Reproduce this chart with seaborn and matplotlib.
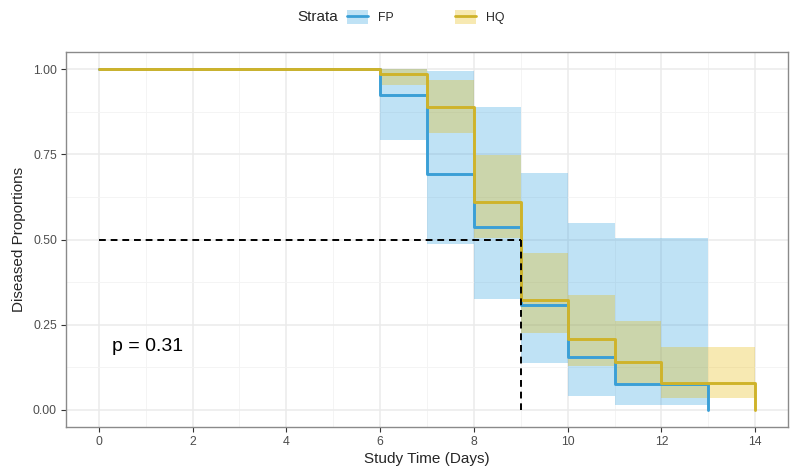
import matplotlib
matplotlib.use("Agg")
import matplotlib.pyplot as plt
import numpy as np
import pandas as pd
import seaborn as sns
from matplotlib.lines import Line2D
from matplotlib.patches import Patch
from matplotlib.ticker import MultipleLocator

# Kaplan-Meier style estimates
fp_time = [0, 6, 7, 8, 9, 10, 11, 13]
fp_surv = [1.0, 0.923, 0.692, 0.538, 0.308, 0.154, 0.076, 0.0]
fp_upper = [1.0, 1.0, 0.994, 0.889, 0.695, 0.548, 0.504, 0.504]
fp_lower = [1.0, 0.792, 0.487, 0.325, 0.138, 0.041, 0.015, 0.015]

hq_time = [0, 6, 7, 8, 9, 10, 11, 12, 14]
hq_surv = [1.0, 0.985, 0.889, 0.611, 0.323, 0.208, 0.141, 0.080, 0.0]
hq_upper = [1.0, 1.0, 0.968, 0.748, 0.460, 0.337, 0.262, 0.185, 0.185]
hq_lower = [1.0, 0.953, 0.812, 0.504, 0.226, 0.129, 0.075, 0.035, 0.035]

strata = ["FP", "HQ"]
line_colors = {"FP": "#3A9FD6", "HQ": "#CFB32A"}
fill_colors = {"FP": "#2E9FDF", "HQ": "#E7B800"}
p_label = "p = 0.31"

df = pd.concat([
    pd.DataFrame({"time": fp_time, "surv": fp_surv, "lower": fp_lower,
                  "upper": fp_upper, "strata": "FP"}),
    pd.DataFrame({"time": hq_time, "surv": hq_surv, "lower": hq_lower,
                  "upper": hq_upper, "strata": "HQ"}),
], ignore_index=True)

sns.set_theme(style="ticks")
plt.rcParams["font.family"] = ["Liberation Sans", "DejaVu Sans"]

fig = plt.figure(figsize=(7.9, 4.71), dpi=100)
ax = fig.add_axes([66 / 790, 1 - 427 / 471, (788 - 66) / 790, (427 - 52) / 471])

# confidence bands
for s in strata:
    d = df[df["strata"] == s]
    ax.fill_between(d["time"], d["lower"], d["upper"], step="post",
                    color=fill_colors[s], alpha=0.3, linewidth=0, zorder=2)

sns.lineplot(data=df, x="time", y="surv", hue="strata", palette=line_colors,
             hue_order=strata, drawstyle="steps-post", linewidth=2.1,
             legend=False, ax=ax, zorder=3, estimator=None)

# median line
medians = [df[(df["strata"] == s) & (df["surv"] <= 0.5)]["time"].min() for s in strata]
med = max(medians)
ax.plot([0, med], [0.5, 0.5], color="black", ls=(0, (3.5, 2.5)), lw=1.4, zorder=4)
ax.plot([med, med], [0.5, 0], color="black", ls=(0, (3.5, 2.5)), lw=1.4, zorder=4)

ax.text(0.28, 0.185, p_label, fontsize=14, va="center", ha="left", color="black")

ax.set_xlim(-0.7, 14.7)
ax.set_ylim(-0.05, 1.05)
ax.xaxis.set_major_locator(MultipleLocator(2))
ax.xaxis.set_minor_locator(MultipleLocator(1))
ax.yaxis.set_major_locator(MultipleLocator(0.25))
ax.yaxis.set_minor_locator(MultipleLocator(0.125))
ax.set_yticks([0, 0.25, 0.5, 0.75, 1.0])
ax.set_yticklabels(["0.00", "0.25", "0.50", "0.75", "1.00"])

ax.grid(which="major", color="#EBEBEB", lw=1.1, zorder=0)
ax.grid(which="minor", color="#F3F3F3", lw=0.6, zorder=0)
ax.set_axisbelow(True)
for sp in ax.spines.values():
    sp.set_color("#8A8A8A")
    sp.set_linewidth(1.0)
ax.tick_params(which="major", length=3.5, width=0.8, color="#333333",
               labelsize=8.8, labelcolor="#4D4D4D", pad=3)
ax.tick_params(which="minor", length=0)

ax.set_xlabel("Study Time (Days)", fontsize=11, labelpad=3)
ax.set_ylabel("Diseased Proportions", fontsize=11, labelpad=5)

# legend across the top
handles = [(Patch(facecolor=fill_colors[s], alpha=0.3, edgecolor="none"),
            Line2D([], [], color=line_colors[s], lw=2)) for s in strata]
fig.legend(handles, strata, loc="center left", bbox_to_anchor=(347 / 790, 1 - 17 / 471),
           ncol=2, frameon=False, fontsize=8.8, handlelength=1.75, handleheight=1.4,
           handletextpad=0.8, columnspacing=5.0, borderpad=0, borderaxespad=0)
fig.text(297 / 790, 1 - 17 / 471, "Strata", fontsize=11, va="center", ha="left")

fig.savefig("out.png", dpi=100)
